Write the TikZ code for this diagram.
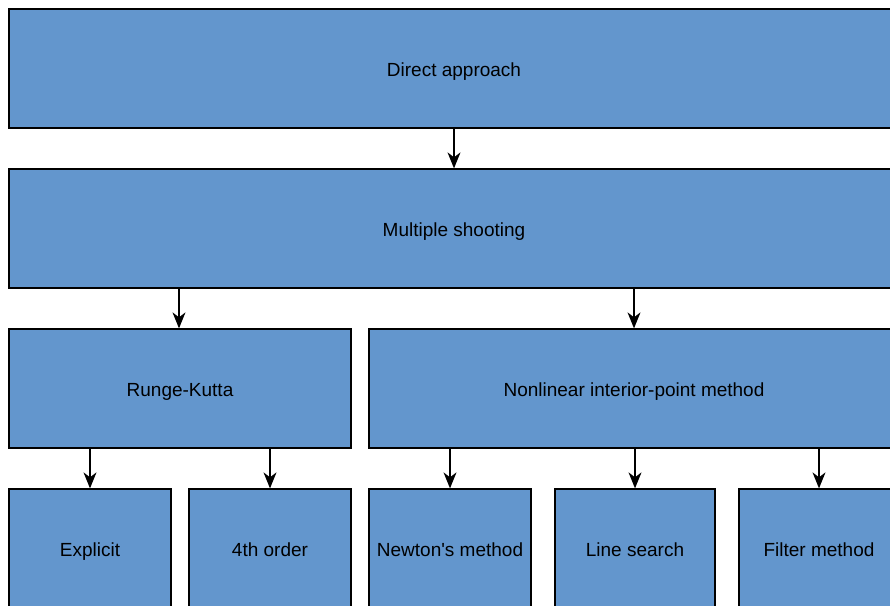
\documentclass[tikz,border=0pt]{standalone}
\usepackage{fontspec}
\setmainfont{Liberation Sans}
\usetikzlibrary{arrows.meta}
\definecolor{boxblue}{RGB}{99,150,205}
\tikzset{
  box/.style={draw=black, fill=boxblue, line width=1.3pt, rectangle, inner sep=0pt,
    minimum height=119pt, text height=15pt, text depth=0pt,
    font=\fontsize{19}{22}\selectfont},
  arr/.style={draw=black, line width=1.3pt, -{Stealth[length=16pt,width=13pt,inset=5pt]}}
}
\begin{document}
\begin{tikzpicture}[x=1pt,y=-1pt]
\useasboundingbox (0,0) rectangle (890,605);
\clip (0,0) rectangle (890,605);
% rows 1 and 2
\node[box, minimum width=890pt] (direct) at (454,68.5) {Direct approach};
\node[box, minimum width=890pt] (shoot) at (454,228.5) {Multiple shooting};
% row 3
\node[box, minimum width=342pt] (rk) at (180,388.5) {Runge-Kutta};
\node[box, minimum width=530pt] (nlip) at (634,388.5) {Nonlinear interior-point method};
% row 4
\node[box, minimum width=162pt] (expl) at (90,548.5) {Explicit};
\node[box, minimum width=162pt] (fourth) at (270,548.5) {4th order};
\node[box, minimum width=162pt] (newton) at (450,548.5) {Newton\textquotesingle s method};
\node[box, minimum width=160pt] (lines) at (635,548.5) {Line search};
\node[box, minimum width=160pt] (filter) at (819,548.5) {Filter method};
% connectors
\draw[arr] (direct.south) -- (shoot.north);
\draw[arr] ([xshift=-1pt]rk.north |- shoot.south) -- ([xshift=-1pt]rk.north);
\draw[arr] (nlip.north |- shoot.south) -- (nlip.north);
\draw[arr] (expl.north |- rk.south) -- (expl.north);
\draw[arr] (fourth.north |- rk.south) -- (fourth.north);
\draw[arr] (newton.north |- nlip.south) -- (newton.north);
\draw[arr] (lines.north |- nlip.south) -- (lines.north);
\draw[arr] (filter.north |- nlip.south) -- (filter.north);
\end{tikzpicture}
\end{document}
